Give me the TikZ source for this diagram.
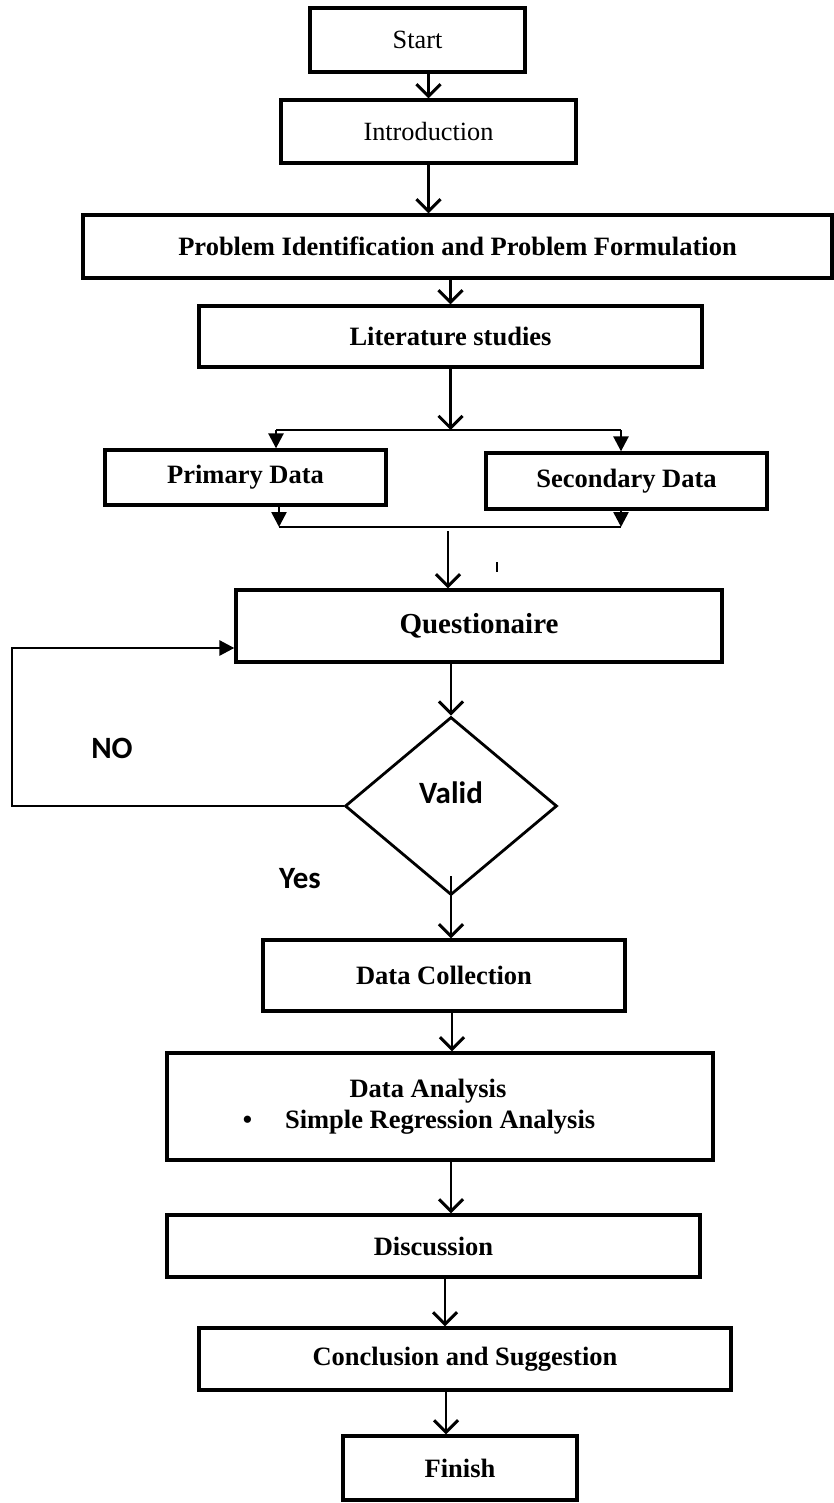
\documentclass[tikz,border=0pt]{standalone}
\usepackage{fontspec}
\setmainfont{Liberation Serif}
\newfontfamily\calibrifont{Carlito}
\usepackage{tikz}
\usetikzlibrary{arrows.meta}
\usetikzlibrary{shapes.geometric}

\begin{document}
\begin{tikzpicture}[x=1pt,y=-1pt]
\tikzstyle{box}=[rectangle,align=center,draw,line width=3.3pt,inner sep=0pt,font=\fontsize{26.5pt}{31.5pt}\selectfont\bfseries]
\tikzstyle{plainbox}=[box,font=\fontsize{26.3pt}{31.5pt}\selectfont]
\tikzstyle{arr}=[line width=2.6pt,-{Straight Barb[length=12pt,width=24pt,line width=3pt]}]
\tikzstyle{tri}=[line width=2.6pt,-{Triangle[length=15pt,width=15pt]}]
\tikzstyle{tag}=[font=\fontsize{31pt}{36pt}\selectfont\calibrifont\bfseries]
\useasboundingbox (0,0) rectangle (834,1503);
\fill[white] (0,0) rectangle (834,1503);

\node[plainbox,minimum width=215pt,minimum height=64pt] at(417.5, 40) (start) {Start};
\node[plainbox,minimum width=295pt,minimum height=63pt] at(428.5, 131.5) (intro) {Introduction};
\node[box,minimum width=749pt,minimum height=63pt] at(457.5, 246.5) (problem) {Problem Identification and Problem Formulation};
\node[box,minimum width=503pt,minimum height=61pt] at(450.5, 336.5) (lit) {Literature studies};
\node[box,minimum width=281pt,minimum height=55pt] at(245.5, 477.5) (primary) {Primary Data};
\node[box,minimum width=281pt,minimum height=56pt] at(626.5, 481) (secondary) {Secondary Data};
\node[box,minimum width=486pt,minimum height=72pt,font=\fontsize{29pt}{34pt}\selectfont\bfseries] at(479, 626) (quest) {Questionaire};
\node[draw,diamond,line width=2.8pt,inner sep=0pt,minimum width=212pt,minimum height=178pt,
      label={[tag,yshift=13pt]center:Valid}] at(451, 806) (valid) {};
\node[box,minimum width=362pt,minimum height=71pt] at(444, 975.5) (datacoll) {Data Collection};
\node[box,minimum width=546pt,minimum height=107pt] at(440, 1106.5) (analysis) {Data Analysis\hspace*{24pt}\\
                         \textbullet\hspace{33pt}Simple Regression Analysis\hspace*{42pt}};
\node[box,minimum width=533pt,minimum height=62pt] at(433.5, 1246) (discussion) {Discussion};
\node[box,minimum width=532pt,minimum height=62pt] at(465, 1359) (conclusion) {Conclusion and Suggestion};
\node[box,minimum width=234pt,minimum height=64pt] at(460, 1468) (finish) {Finish};

\node[tag] at(112, 748) (no) {NO};
\node[tag] at(300, 879) (yes) {Yes};

% fork and join
\coordinate (fork) at(448, 430);
\coordinate (forkL) at(276, 430);
\coordinate (forkR) at(621, 430);
\coordinate (joinL) at(279, 527);
\coordinate (joinR) at(621, 527);
\coordinate (join) at(448, 531);
\coordinate (loopT) at(12, 648);

\draw[arr] (start.south -| intro.north) -- (intro.north);
\draw[arr] (intro.south) -- (intro.south |- problem.north);
\draw[arr] (problem.south -| lit.north) -- (lit.north);
\draw[arr] (lit.south) -- (lit.south |- fork);
\draw[line width=2.6pt] (forkL) -- (forkR);
\draw[tri] (forkL) -- (forkL |- primary.north);
\draw[tri] (forkR) -- (forkR |- secondary.north);
\draw[tri] (primary.south -| joinL) -- (joinL);
\draw[tri] (secondary.south -| joinR) -- (joinR);
\draw[line width=2.6pt] (joinL) -- (joinR);
\draw[arr] (join) -- (join |- quest.north);
\draw[line width=2.8pt] (497, 562) -- (497, 572);
\draw[arr] (quest.south -| valid.north) -- (valid.north);
\draw[tri,line width=2.8pt] (valid.west) -- (valid.west -| loopT) -- (loopT) -- (loopT -| quest.west);
\draw[arr] ([yshift=20pt]valid.south) -- (valid.south |- datacoll.north);
\draw[arr] ([xshift=8pt]datacoll.south) -- ([xshift=8pt]datacoll.south |- analysis.north);
\draw[arr] ([xshift=11pt]analysis.south) -- ([xshift=11pt]analysis.south |- discussion.north);
\draw[arr] ([xshift=11.5pt]discussion.south) -- ([xshift=11.5pt]discussion.south |- conclusion.north);
\draw[arr] ([xshift=-19pt]conclusion.south) -- ([xshift=-19pt]conclusion.south |- finish.north);
\end{tikzpicture}
\end{document}
